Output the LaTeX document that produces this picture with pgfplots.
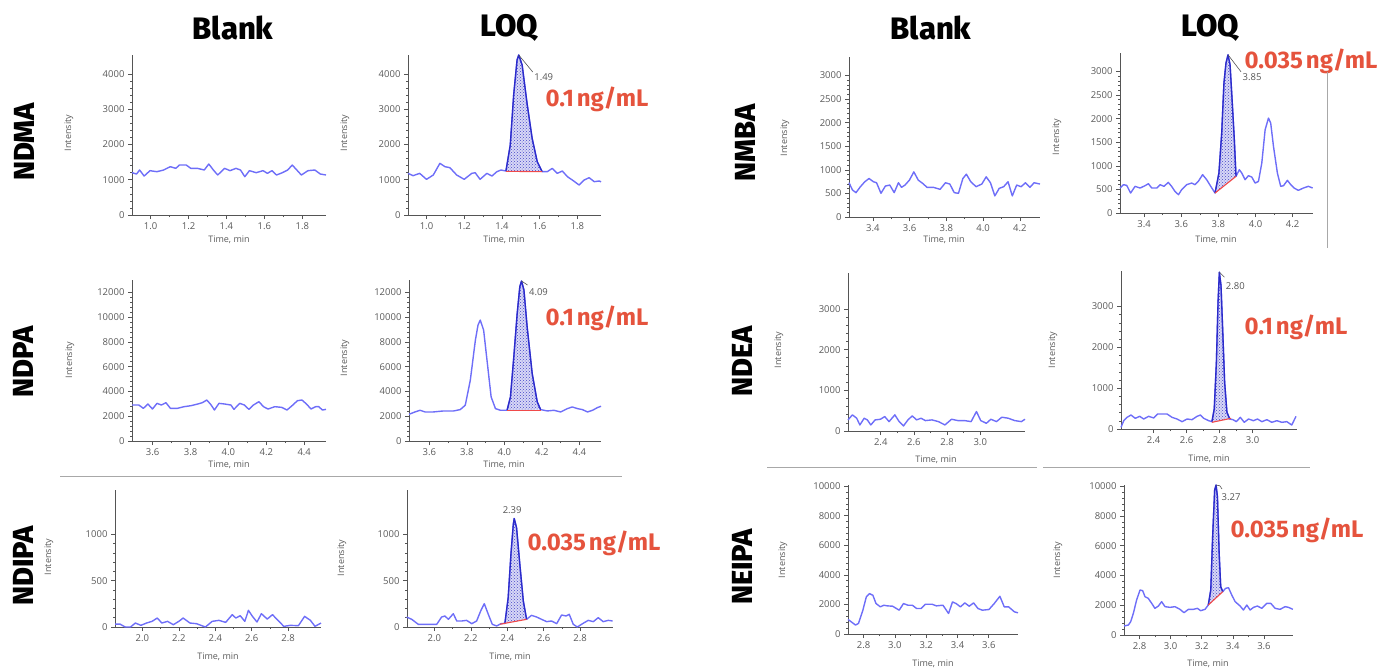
\documentclass[border=0pt]{standalone}
\usepackage{fontspec}
\usepackage{pgfplots}
\pgfplotsset{compat=1.18}
\usetikzlibrary{patterns}
\setmainfont{Fira Sans}
\newfontfamily\tickfam{Open Sans}
\IfFontExistsTF{Fira Sans ExtraBold}
  {\newfontfamily\heavyfam{Fira Sans ExtraBold}}
  {\newcommand\heavyfam{\bfseries}}
\newcommand\tickfont{\tickfam\fontsize{9.5}{11}\selectfont}
\newcommand\smallfont{\tickfam\fontsize{9}{10}\selectfont}
\newcommand\titlefont{\heavyfam\fontsize{31}{31}\selectfont}
\newcommand\rowfont{\heavyfam\fontsize{29}{29}\selectfont}
\newcommand\concfont{\bfseries\fontsize{24}{24}\selectfont}

\definecolor{traceblue}{HTML}{6E6EF8}
\definecolor{peakblue}{HTML}{2B2BC8}
\definecolor{peakfill}{HTML}{D8D8F6}
\definecolor{peakdot}{HTML}{4848C8}
\definecolor{basered}{HTML}{F04A4A}
\definecolor{concred}{HTML}{E5533D}
\definecolor{axisgray}{HTML}{555555}
\definecolor{labelgray}{HTML}{5A5A5A}
\definecolor{divgray}{HTML}{A8A8A8}

\tikzset{lead/.style={draw=axisgray, line width=0.6pt}}
\pgfplotsset{
  chrom/.style={
    scale only axis, anchor=south west, clip=false,
    axis lines=left,
    axis line style={-, draw=axisgray, line width=0.8pt},
    tick style={draw=axisgray, line width=0.6pt},
    tick align=outside,
    major tick length=4pt, minor tick length=2pt,
    minor x tick num=1, minor y tick num=4,
    tick label style={font=\tickfont, text=labelgray},
    /pgf/number format/assume math mode=true,
    scaled ticks=false,
    xticklabel style={/pgf/number format/fixed, /pgf/number format/fixed zerofill, /pgf/number format/precision=1},
    yticklabel style={/pgf/number format/fixed, /pgf/number format/1000 sep={}},
    ymin=0,
  },
  trace/.style={color=traceblue, line width=1.4pt, line join=round, no marks},
  peak/.style={color=peakblue, line width=1.3pt, line join=round, no marks},
  area/.style={draw=none, fill=peakfill, postaction={pattern=crosshatch dots, pattern color=peakdot}},
  base/.style={color=basered, line width=1.1pt, no marks},
}

\begin{document}
\begin{tikzpicture}
\useasboundingbox (0,0) rectangle (1380pt,-667pt);

% ---------------- left group ----------------
% NDMA blank
\begin{axis}[chrom, at={(132pt,-215pt)}, width=194pt, height=160pt,
  xmin=0.902, xmax=1.925, ymax=4540, xtick={1.0,1.2,...,1.8}, ytick={0,1000,...,4000}]
\addplot[trace] coordinates {(0.902,1201)(0.926,1163)(0.942,1277)(0.966,1106)(0.997,1258)(1.033,1229)(1.069,1277)(1.104,1371)(1.133,1324)(1.152,1418)(1.188,1418)(1.212,1324)(1.247,1324)(1.283,1277)(1.307,1447)(1.331,1277)(1.354,1135)(1.390,1324)(1.419,1258)(1.45,1324)(1.474,1277)(1.497,1087)(1.521,1258)(1.557,1201)(1.593,1258)(1.616,1182)(1.64,1258)(1.664,1135)(1.695,1201)(1.723,1277)(1.747,1418)(1.771,1277)(1.795,1135)(1.83,1258)(1.866,1277)(1.895,1163)(1.925,1135)};
\end{axis}
% NDMA LOQ
\begin{axis}[chrom, at={(408pt,-215pt)}, width=193pt, height=160pt,
  xmin=0.902, xmax=1.925, ymax=4540, xtick={1.0,1.2,...,1.8}, ytick={0,1000,...,4000}]
\addplot[area] coordinates {(1.421,1248)(1.444,1986)(1.462,3404)(1.48,4397)(1.489,4540)(1.507,4255)(1.533,3168)(1.56,2175)(1.587,1513)(1.613,1229)} -- cycle;
\addplot[trace] coordinates {(0.902,1182)(0.929,1116)(0.964,1182)(1.0,1012)(1.036,1135)(1.071,1466)(1.098,1371)(1.124,1343)(1.16,1135)(1.2,1012)(1.24,1182)(1.258,1200)(1.284,1012)(1.32,1182)(1.347,1106)(1.373,1229)(1.395,1277)(1.421,1248)(1.444,1986)(1.462,3404)(1.48,4397)(1.489,4540)(1.507,4255)(1.533,3168)(1.56,2175)(1.587,1513)(1.613,1229)(1.64,1229)(1.667,1324)(1.693,1182)(1.72,1248)(1.747,1087)(1.773,993)(1.809,851)(1.836,993)(1.862,1059)(1.889,946)(1.916,965)(1.925,940)};
\addplot[peak] coordinates {(1.421,1248)(1.444,1986)(1.462,3404)(1.48,4397)(1.489,4540)(1.507,4255)(1.533,3168)(1.56,2175)(1.587,1513)(1.613,1229)};
\addplot[base] coordinates {(1.421,1240)(1.613,1229)};
\draw[lead] (axis cs:1.489,4540) -- ++(14pt,-17pt);
\node[font=\tickfont, text=axisgray] at ([shift={(25pt,-22pt)}]axis cs:1.489,4540) {1.49};
\end{axis}

% NDPA blank
\begin{axis}[chrom, at={(132pt,-441pt)}, width=194pt, height=161pt,
  xmin=3.491, xmax=4.515, ymax=13000, xtick={3.6,3.8,...,4.4}, ytick={0,2000,...,12000}]
\addplot[trace] coordinates {(3.491,2906)(3.527,2906)(3.551,2637)(3.575,2986)(3.599,2583)(3.623,3040)(3.646,2906)(3.67,3094)(3.694,2637)(3.73,2637)(3.766,2771)(3.802,2852)(3.838,2986)(3.862,3094)(3.886,3309)(3.909,2906)(3.926,2502)(3.95,3040)(3.981,2986)(4.013,2906)(4.029,2556)(4.06,3040)(4.084,2906)(4.108,2556)(4.132,2906)(4.161,3175)(4.185,2771)(4.209,2583)(4.245,2771)(4.281,2717)(4.309,2502)(4.34,2906)(4.364,3255)(4.388,3309)(4.412,2986)(4.436,2583)(4.46,2771)(4.477,2771)(4.496,2502)(4.515,2556)};
\end{axis}
% NDPA LOQ
\begin{axis}[chrom, at={(409pt,-441pt)}, width=192pt, height=161pt,
  xmin=3.491, xmax=4.515, ymax=13000, xtick={3.6,3.8,...,4.4}, ytick={0,2000,...,12000}]
\addplot[area] coordinates {(4.014,2481)(4.032,3560)(4.05,6796)(4.068,10302)(4.082,12460)(4.091,12918)(4.104,12190)(4.121,9223)(4.148,5448)(4.175,3155)(4.193,2535)} -- cycle;
\addplot[trace] coordinates {(3.491,2157)(3.523,2346)(3.55,2481)(3.577,2346)(3.621,2346)(3.675,2427)(3.729,2427)(3.764,2535)(3.791,2886)(3.818,4908)(3.845,8145)(3.859,9358)(3.871,9763)(3.889,8954)(3.907,6526)(3.929,3560)(3.952,2616)(3.979,2481)(4.014,2481)(4.032,3560)(4.05,6796)(4.068,10302)(4.082,12460)(4.091,12918)(4.104,12190)(4.121,9223)(4.148,5448)(4.175,3155)(4.193,2535)(4.229,2427)(4.264,2481)(4.3,2346)(4.336,2616)(4.362,2751)(4.389,2616)(4.416,2535)(4.443,2346)(4.47,2481)(4.496,2697)(4.515,2805)};
\addplot[peak] coordinates {(4.014,2481)(4.032,3560)(4.05,6796)(4.068,10302)(4.082,12460)(4.091,12918)(4.104,12190)(4.121,9223)(4.148,5448)(4.175,3155)(4.193,2535)};
\addplot[base] coordinates {(4.014,2470)(4.193,2470)};
\draw[lead] (axis cs:4.091,12918) -- ++(6pt,-4pt);
\node[font=\tickfont, text=axisgray] at ([shift={(17pt,-11pt)}]axis cs:4.091,12918) {4.09};
\end{axis}

% NDIPA blank
\begin{axis}[chrom, at={(115pt,-627pt)}, width=206pt, height=137.5pt,
  xmin=1.85, xmax=2.98, ymax=1486, xtick={2.0,2.2,...,2.8}, ytick={0,500,1000}]
\addplot[trace] coordinates {(1.85,32)(1.877,32)(1.906,0)(1.935,0)(1.962,43)(1.992,18)(2.023,43)(2.053,61)(2.082,97)(2.107,43)(2.138,61)(2.17,25)(2.2,61)(2.224,97)(2.261,43)(2.297,36)(2.346,0)(2.383,61)(2.42,72)(2.457,50)(2.493,133)(2.513,97)(2.537,122)(2.562,61)(2.582,180)(2.604,115)(2.629,54)(2.653,144)(2.685,86)(2.714,133)(2.744,72)(2.776,7)(2.812,18)(2.856,14)(2.89,115)(2.922,72)(2.947,7)(2.98,43)};
\end{axis}
% NDIPA LOQ
\begin{axis}[chrom, at={(407pt,-627pt)}, width=206pt, height=137.5pt,
  xmin=1.85, xmax=2.98, ymax=1486, xtick={2.0,2.2,...,2.8}, ytick={0,500,1000}]
\addplot[area] coordinates {(2.387,40)(2.405,317)(2.42,784)(2.433,1108)(2.438,1173)(2.451,1072)(2.469,676)(2.488,281)(2.506,83)} -- cycle;
\addplot[trace] coordinates {(1.848,108)(1.876,83)(1.912,29)(1.958,29)(2.013,29)(2.04,108)(2.058,119)(2.077,83)(2.104,144)(2.123,65)(2.15,65)(2.177,72)(2.205,36)(2.232,65)(2.254,173)(2.274,252)(2.296,137)(2.318,29)(2.342,11)(2.365,36)(2.387,40)(2.405,317)(2.42,784)(2.433,1108)(2.438,1173)(2.451,1072)(2.469,676)(2.488,281)(2.506,83)(2.533,126)(2.561,108)(2.588,83)(2.616,58)(2.643,65)(2.671,36)(2.698,130)(2.722,119)(2.74,137)(2.762,29)(2.784,0)(2.813,36)(2.844,72)(2.872,58)(2.899,101)(2.926,58)(2.954,72)(2.978,65)};
\addplot[peak] coordinates {(2.387,40)(2.405,317)(2.42,784)(2.433,1108)(2.438,1173)(2.451,1072)(2.469,676)(2.488,281)(2.506,83)};
\addplot[base] coordinates {(2.36,30)(2.506,83)};
\node[font=\tickfont, text=axisgray] at ([shift={(-2pt,8pt)}]axis cs:2.438,1173) {2.39};
\end{axis}

% ---------------- right group ----------------
% NMBA blank
\begin{axis}[chrom, at={(849pt,-217pt)}, width=191pt, height=160pt,
  xmin=3.27, xmax=4.31, ymax=3390, xtick={3.4,3.6,...,4.2}, ytick={0,500,...,3000}]
\addplot[trace] coordinates {(3.27,726)(3.289,572)(3.308,516)(3.332,642)(3.356,747)(3.379,816)(3.403,747)(3.42,726)(3.444,502)(3.468,656)(3.492,677)(3.516,516)(3.539,726)(3.556,628)(3.575,677)(3.599,782)(3.623,956)(3.647,782)(3.671,712)(3.695,628)(3.73,628)(3.766,586)(3.795,726)(3.819,698)(3.843,516)(3.866,502)(3.89,816)(3.909,907)(3.933,747)(3.962,642)(3.993,698)(4.017,851)(4.04,726)(4.064,447)(4.088,607)(4.112,642)(4.136,747)(4.159,447)(4.183,677)(4.207,642)(4.231,726)(4.255,628)(4.278,726)(4.31,698)};
\end{axis}
% NMBA LOQ
\begin{axis}[chrom, at={(1120pt,-213pt)}, width=193pt, height=160pt,
  xmin=3.27, xmax=4.31, ymax=3390, xtick={3.4,3.6,...,4.2}, ytick={0,500,...,3000}]
\addplot[area] coordinates {(3.782,423)(3.803,847)(3.818,1694)(3.83,2752)(3.841,3176)(3.852,3352)(3.863,3140)(3.875,2329)(3.886,1553)(3.895,776)} -- cycle;
\addplot[trace] coordinates {(3.27,529)(3.288,600)(3.306,586)(3.327,423)(3.351,565)(3.378,529)(3.405,579)(3.423,621)(3.441,529)(3.468,529)(3.486,600)(3.507,565)(3.53,649)(3.548,565)(3.566,459)(3.585,388)(3.602,494)(3.629,600)(3.656,635)(3.674,600)(3.692,670)(3.715,812)(3.737,706)(3.759,565)(3.782,423)(3.803,847)(3.818,1694)(3.83,2752)(3.841,3176)(3.852,3352)(3.863,3140)(3.875,2329)(3.886,1553)(3.895,776)(3.913,917)(3.926,847)(3.944,706)(3.962,790)(3.98,762)(3.998,635)(4.016,670)(4.034,1059)(4.052,1764)(4.07,2011)(4.082,1905)(4.097,1411)(4.118,847)(4.136,565)(4.151,579)(4.172,692)(4.19,600)(4.208,529)(4.231,480)(4.258,529)(4.285,565)(4.308,529)};
\addplot[peak] coordinates {(3.782,423)(3.803,847)(3.818,1694)(3.83,2752)(3.841,3176)(3.852,3352)(3.863,3140)(3.875,2329)(3.886,1553)(3.895,776)};
\addplot[base] coordinates {(3.782,423)(3.895,776)};
\draw[lead] (axis cs:3.852,3352) -- ++(13pt,-17pt);
\node[font=\tickfont, text=axisgray] at ([shift={(24pt,-22pt)}]axis cs:3.852,3352) {3.85};
\end{axis}

% NDEA blank
\begin{axis}[chrom, at={(848pt,-431pt)}, width=177pt, height=158pt,
  xmin=2.2025, xmax=3.27, ymax=3884, xtick={2.4,2.6,2.8,3.0}, ytick={0,1000,2000,3000}]
\addplot[trace] coordinates {(2.2025,273)(2.229,397)(2.255,314)(2.274,149)(2.3,314)(2.319,273)(2.34,149)(2.366,273)(2.398,289)(2.424,355)(2.45,231)(2.485,397)(2.511,231)(2.537,124)(2.564,273)(2.59,372)(2.616,273)(2.643,314)(2.669,256)(2.709,273)(2.748,231)(2.787,149)(2.827,289)(2.866,256)(2.906,256)(2.945,231)(2.977,479)(3.003,256)(3.037,190)(3.064,289)(3.098,231)(3.13,339)(3.169,314)(3.208,256)(3.248,231)(3.27,289)};
\end{axis}
% NDEA LOQ
\begin{axis}[chrom, at={(1121pt,-429pt)}, width=176pt, height=158.5pt,
  xmin=2.2025, xmax=3.27, ymax=3884, xtick={2.4,2.6,2.8,3.0}, ytick={0,1000,2000,3000}]
\addplot[area] coordinates {(2.754,180)(2.768,491)(2.781,1635)(2.791,3107)(2.799,3843)(2.809,3516)(2.819,2453)(2.831,1145)(2.845,409)(2.862,245)} -- cycle;
\addplot[trace] coordinates {(2.2025,41)(2.219,204)(2.239,286)(2.263,343)(2.289,262)(2.316,311)(2.34,245)(2.37,311)(2.401,270)(2.425,368)(2.482,368)(2.512,286)(2.542,245)(2.573,180)(2.603,245)(2.633,229)(2.664,311)(2.684,343)(2.704,262)(2.734,204)(2.754,180)(2.768,491)(2.781,1635)(2.791,3107)(2.799,3843)(2.809,3516)(2.819,2453)(2.831,1145)(2.845,409)(2.862,245)(2.882,229)(2.902,180)(2.926,286)(2.95,164)(2.976,245)(3.006,204)(3.03,245)(3.057,180)(3.087,229)(3.117,164)(3.148,204)(3.178,164)(3.208,180)(3.238,98)(3.264,311)};
\addplot[peak] coordinates {(2.754,180)(2.768,491)(2.781,1635)(2.791,3107)(2.799,3843)(2.809,3516)(2.819,2453)(2.831,1145)(2.845,409)(2.862,245)};
\addplot[base] coordinates {(2.754,164)(2.87,262)};
\draw[lead] (axis cs:2.799,3843) -- ++(5pt,-5pt);
\node[font=\tickfont, text=axisgray] at ([shift={(16pt,-14pt)}]axis cs:2.799,3843) {2.80};
\end{axis}

% NEIPA blank
\begin{axis}[chrom, at={(848pt,-634pt)}, width=170pt, height=149pt,
  xmin=2.70, xmax=3.787, ymax=10070, xtick={2.8,3.0,...,3.6}, ytick={0,2000,...,10000}]
\addplot[trace] coordinates {(2.70,985)(2.72,828)(2.748,604)(2.767,716)(2.795,1611)(2.817,2506)(2.837,2730)(2.859,2618)(2.879,2059)(2.907,1835)(2.929,1947)(2.951,1902)(2.985,1880)(3.027,1611)(3.055,2059)(3.083,1947)(3.111,1947)(3.139,1723)(3.167,1723)(3.195,2014)(3.237,2014)(3.265,1902)(3.307,1947)(3.343,1387)(3.368,2170)(3.391,2059)(3.419,1835)(3.447,2103)(3.475,1880)(3.503,2103)(3.531,1723)(3.559,1611)(3.601,1656)(3.635,2059)(3.671,2551)(3.699,1835)(3.727,1835)(3.764,1499)(3.787,1432)};
\end{axis}
% NEIPA LOQ
\begin{axis}[chrom, at={(1124pt,-635pt)}, width=169pt, height=150pt,
  xmin=2.70, xmax=3.787, ymax=10070, xtick={2.8,3.0,...,3.6}, ytick={0,2000,...,10000}]
\addplot[area] coordinates {(3.242,2013)(3.258,3020)(3.27,6600)(3.283,9732)(3.292,10067)(3.301,9284)(3.312,5481)(3.322,3244)(3.335,2908)} -- cycle;
\addplot[trace] coordinates {(2.70,604)(2.728,671)(2.743,895)(2.76,1454)(2.781,2349)(2.803,3020)(2.82,2975)(2.835,2573)(2.856,2461)(2.878,2125)(2.899,1790)(2.921,1946)(2.942,2237)(2.964,1902)(2.996,1857)(3.028,1902)(3.06,1723)(3.086,1499)(3.114,1723)(3.146,1723)(3.172,1790)(3.193,1633)(3.221,1723)(3.242,2013)(3.258,3020)(3.27,6600)(3.283,9732)(3.292,10067)(3.301,9284)(3.312,5481)(3.322,3244)(3.335,2908)(3.353,3132)(3.372,3177)(3.393,2685)(3.415,2237)(3.447,1946)(3.468,1678)(3.49,2013)(3.511,1678)(3.533,1857)(3.558,1946)(3.586,1790)(3.618,2125)(3.644,2125)(3.672,1790)(3.704,1723)(3.736,1902)(3.758,1857)(3.786,1723)};
\addplot[peak] coordinates {(3.242,2013)(3.258,3020)(3.27,6600)(3.283,9732)(3.292,10067)(3.301,9284)(3.312,5481)(3.322,3244)(3.335,2908)};
\addplot[base] coordinates {(3.242,2013)(3.335,2908)};
\draw[lead] (axis cs:3.292,10067) to[out=10,in=100] ++(6pt,-4pt);
\node[font=\tickfont, text=axisgray] at ([shift={(15pt,-12pt)}]axis cs:3.292,10067) {3.27};
\end{axis}

% ---------------- axis captions ----------------
\begin{scope}[every node/.style={font=\smallfont, text=labelgray, inner sep=0pt}]
\foreach \x/\y in {229/240, 504/240, 229/465, 504/465, 218/657, 510/657,
                   944/240, 1216/240, 936/460, 1209/459, 933/664, 1208/664}
  \node at (\x pt,-\y pt) {Time, min};
\foreach \x/\y in {69/133, 345/133, 70/360, 345/358, 49/557, 342/558,
                   785/138, 1057/137, 779/350, 1053/350, 783/560, 1058/560}
  \node[rotate=90] at (\x pt,-\y pt) {Intensity};
\end{scope}

% titles
\node[font=\titlefont] at (233pt,-28pt) {Blank};
\node[font=\titlefont] at (509pt,-28pt) {LOQ};
\node[font=\titlefont] at (931pt,-28pt) {Blank};
\node[font=\titlefont] at (1210pt,-28pt) {LOQ};

% row labels
\node[font=\rowfont, rotate=90] at (24pt,-142pt) {NDMA};
\node[font=\rowfont, rotate=90] at (23pt,-362pt) {NDPA};
\node[font=\rowfont, rotate=90] at (23pt,-566pt) {NDIPA};
\node[font=\rowfont, rotate=90] at (745pt,-143pt) {NMBA};
\node[font=\rowfont, rotate=90] at (742pt,-361pt) {NDEA};
\node[font=\rowfont, rotate=90] at (742pt,-567pt) {NEIPA};

% concentrations
\node[font=\concfont, text=concred] at (597pt,-99pt) {0.1\hspace{3pt}ng/mL};
\node[font=\concfont, text=concred] at (597pt,-318pt) {0.1\hspace{3pt}ng/mL};
\node[font=\concfont, text=concred] at (594pt,-543pt) {0.035\hspace{3pt}ng/mL};
\node[font=\concfont, text=concred] at (1311pt,-61pt) {0.035\hspace{3pt}ng/mL};
\node[font=\concfont, text=concred] at (1296pt,-327pt) {0.1\hspace{3pt}ng/mL};
\node[font=\concfont, text=concred] at (1297pt,-530pt) {0.035\hspace{3pt}ng/mL};

% dividers
\draw[divgray, line width=1pt] (60pt,-476pt) -- (622pt,-476pt);
\draw[divgray, line width=1pt] (767pt,-467pt) -- (1037pt,-467pt);
\draw[divgray, line width=1pt] (1043pt,-467pt) -- (1310pt,-467pt);
\draw[divgray, line width=1pt] (1327pt,-72pt) -- (1327pt,-248pt);
\end{tikzpicture}
\end{document}
